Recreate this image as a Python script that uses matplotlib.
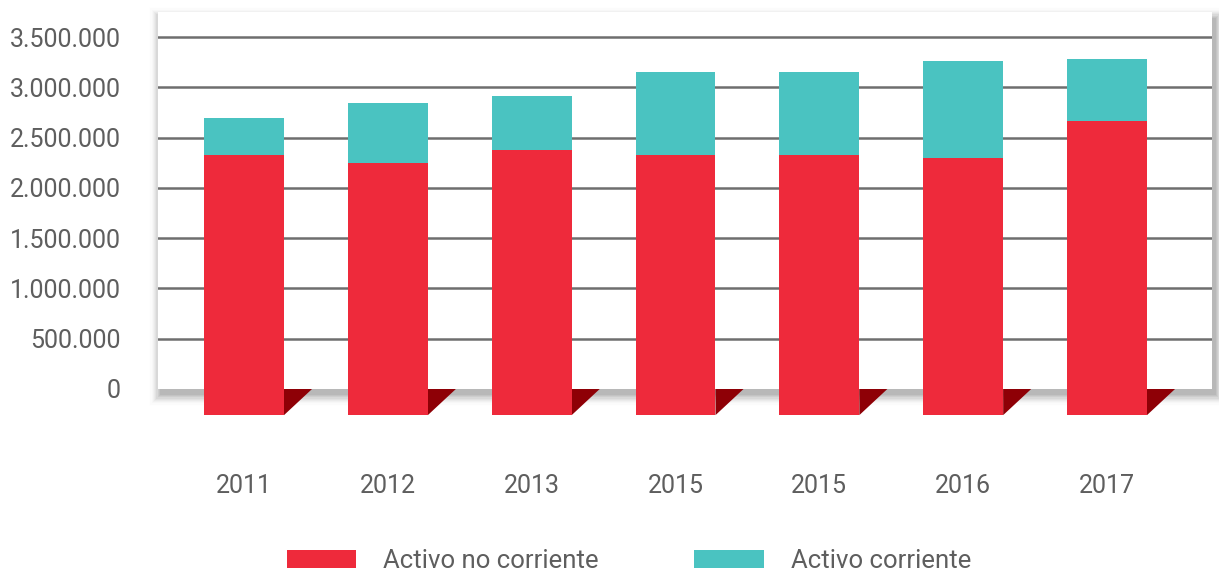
import numpy as np
import matplotlib
matplotlib.use("Agg")
import matplotlib.pyplot as plt
from matplotlib.patches import Rectangle, Polygon, Patch
from matplotlib.ticker import FuncFormatter

years = ["2011", "2012", "2013", "2015", "2015", "2016", "2017"]
activo_no_corriente = [2327000, 2247000, 2376000, 2327000, 2327000, 2297000, 2665000]
activo_corriente = [368000, 597000, 537000, 825000, 825000, 964000, 616000]

RED = "#ee2a3b"
TEAL = "#4ac3c1"
DARK = "#8e0006"
TXT = "#5e5e5e"
FLOOR = -260000  # bars hang below the panel like the original 3D floor

plt.rcParams["font.family"] = ["Roboto", "DejaVu Sans"]

W, H = 1219, 577
fig = plt.figure(figsize=(W / 100, H / 100), dpi=100)
fig.patch.set_facecolor("white")

px_l, px_r, px_t, px_b = 158, 1212, 12, 389
ax = fig.add_axes([px_l / W, 1 - px_b / H, (px_r - px_l) / W, (px_b - px_t) / H])

# soft shadow behind the panel
for i in range(10):
    a = 0.055 * (1 - i / 10)
    grow = i * 1.2
    r = Rectangle(((px_l - grow + 2) / W, 1 - (px_b + 6 + grow) / H),
                  (px_r - px_l + 2 * grow + 2) / W, (px_b - px_t + 2 * grow) / H,
                  transform=fig.transFigure, facecolor="black", alpha=a,
                  edgecolor="none", zorder=0)
    fig.patches.append(r)

ax.set_facecolor("white")
ax.set_zorder(1)
x = np.arange(len(years))
w = 0.556
ax.set_xlim(-0.598, 6.73)
ax.set_ylim(0, 3.75e6)

ax.set_yticks(np.arange(0, 3.5e6 + 1, 5e5))
ax.yaxis.set_major_formatter(FuncFormatter(lambda v, p: f"{int(v):,}".replace(",", ".")))
ax.set_axisbelow(True)
ax.yaxis.grid(True, color="#6e6e6e", lw=1.8)
ax.yaxis.get_gridlines()[0].set_visible(False)
for s in ax.spines.values():
    s.set_visible(False)
ax.tick_params(axis="y", length=0, pad=27, labelsize=18, labelcolor=TXT)
ax.set_xticks(x)
ax.set_xticklabels(years)
ax.tick_params(axis="x", length=0, pad=61, labelsize=18, labelcolor=TXT)

base = np.array(activo_no_corriente)
ax.bar(x, base - FLOOR, w, bottom=FLOOR, color=RED, clip_on=False, zorder=3)
ax.bar(x, activo_corriente, w, bottom=base, color=TEAL, clip_on=False, zorder=3)

dx = 0.195
for xi in x:
    xr = xi + w / 2
    tri = Polygon([[xr, 0], [xr + dx, 0], [xr, FLOOR]], closed=True,
                  facecolor=DARK, edgecolor="none", clip_on=False, zorder=2)
    ax.add_patch(tri)

handles = [Patch(facecolor=RED, label="Activo no corriente"),
           Patch(facecolor=TEAL, label="Activo corriente")]
fig.legend(handles=handles, loc="center", bbox_to_anchor=(629 / W, 1 - 561 / H), ncol=2,
           frameon=False, fontsize=18.5, labelcolor=TXT, handlelength=2.7,
           handleheight=0.7, handletextpad=1.05, columnspacing=3.7)

fig.savefig("out.png", dpi=100, facecolor="white")
